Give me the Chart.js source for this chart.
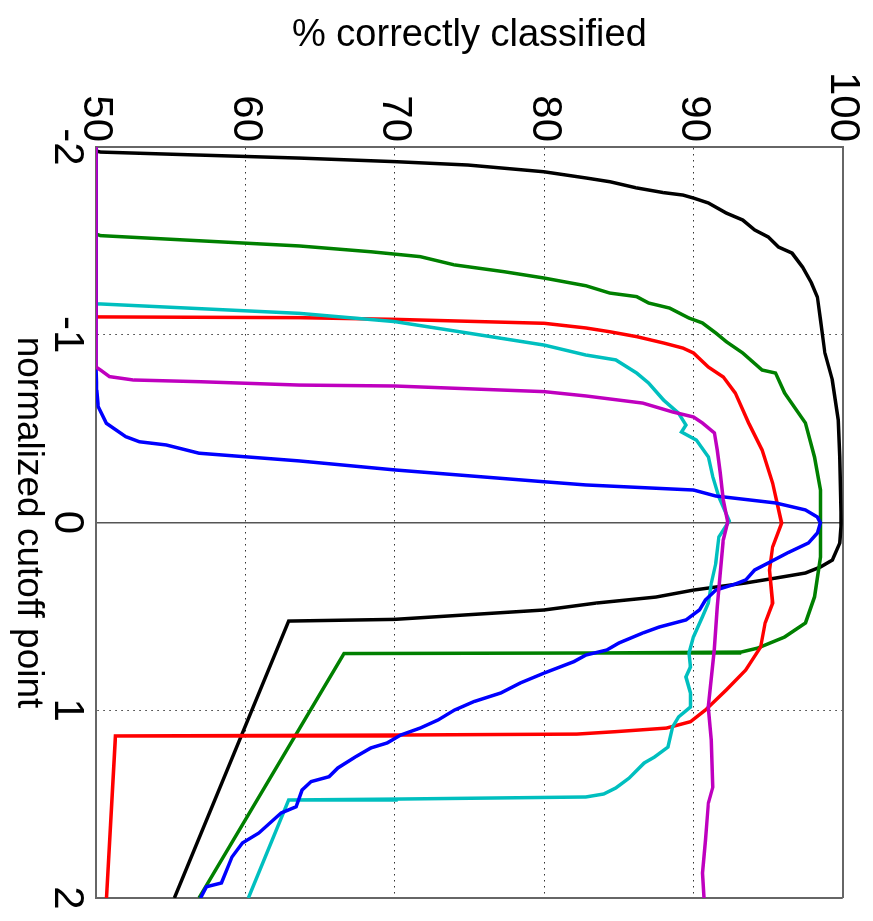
<!DOCTYPE html>
<html>
<head>
<meta charset="utf-8">
<script src="https://cdn.jsdelivr.net/npm/chart.js"></script>
<style>
html, body { margin: 0; padding: 0; background: #fff; overflow: hidden; }
/* chart is drawn upright (cutoff across, % up) and then turned a quarter clockwise */
#wrap { position: absolute; left: 0; top: 0; width: 921px; height: 873px;
        transform-origin: 0 0; transform: translateX(873px) rotate(90deg); }
</style>
</head>
<body>
<div id="wrap"><canvas id="c" width="921" height="873"></canvas></div>
<script>
const xTicks = [-2, -1, 0, 1, 2];
const yTicks = [50, 60, 70, 80, 90, 100];
const xLabel = 'normalized cutoff point';
const yLabel = '% correctly classified';

// [cutoff, % correct]
const black = [[-2,50],[-1.979,50],[-1.973,50.3],[-1.957,56.9],[-1.941,63.6],[-1.922,70],[-1.904,74.9],[-1.868,80],
  [-1.835,82.8],[-1.815,84.4],[-1.782,86.2],[-1.757,88],[-1.744,89.3],[-1.728,90],[-1.702,91],[-1.648,92.2],
  [-1.611,93.3],[-1.558,94.1],[-1.521,95],[-1.467,95.7],[-1.435,96.6],[-1.361,97.3],[-1.276,97.9],[-1.201,98.3],
  [-1.079,98.5],[-0.903,98.8],[-0.759,99.3],[-0.546,99.7],[-0.349,99.8],[0.003,99.9],[0.109,99.8],[0.2,99.3],
  [0.237,98.5],[0.269,97.5],[0.296,95.5],[0.322,93.5],[0.36,90],[0.397,87.5],[0.429,83.5],[0.466,80],
  [0.516,70],[0.525,62.9],[2,55.25]];
const green = [[-2,50],[-1.537,50],[-1.528,50.3],[-1.473,63.6],[-1.442,68.4],[-1.416,71.7],[-1.372,74],[-1.336,77.3],
  [-1.302,80],[-1.261,82.8],[-1.222,84.4],[-1.203,86.2],[-1.169,87],[-1.142,88.4],[-1.089,89.7],[-1.063,90.6],
  [-1.009,91.5],[-0.963,92.2],[-0.903,93.3],[-0.812,94.6],[-0.796,95.5],[-0.69,96.1],[-0.53,97.5],[-0.349,98.1],
  [-0.173,98.5],[0.003,98.5],[0.184,98.5],[0.397,98.1],[0.535,97.5],[0.61,96.1],[0.669,94.3],[0.69,93.2],
  [0.695,83.5],[0.698,66.6],[2,56.9]];
const red = [[-2,50],[-1.095,50],[-1.091,63.6],[-1.082,70],[-1.061,80],[-1.036,82.8],[-1.016,84.4],[-0.99,86.2],
  [-0.956,88],[-0.929,89.3],[-0.903,90],[-0.828,91],[-0.775,92],[-0.69,92.8],[-0.53,93.7],[-0.386,94.6],
  [-0.21,95.3],[0.003,95.9],[0.13,95.3],[0.253,95.1],[0.429,95.3],[0.535,94.8],[0.663,94.5],[0.786,93.5],
  [0.892,92.2],[0.999,90.8],[1.061,89.8],[1.095,88.2],[1.114,84.8],[1.127,82.2],[1.132,70.2],[1.137,51.3],
  [2,50.7]];
const cyan = [[-2,50],[-1.169,50],[-1.164,50.3],[-1.114,63.6],[-1.07,70],[-1.009,74.9],[-0.945,80],[-0.892,82.8],
  [-0.866,84.8],[-0.796,86.2],[-0.743,87],[-0.652,88],[-0.583,89],[-0.519,89.5],[-0.482,89.2],[-0.439,90.2],
  [-0.349,91],[-0.242,91.3],[-0.136,91.7],[-0.008,92.4],[0.077,91.7],[0.216,91.5],[0.322,91.2],[0.429,91],
  [0.503,90.6],[0.61,90],[0.695,89.7],[0.77,89.8],[0.823,89.5],[0.908,89.8],[0.983,89.8],[1.036,89],
  [1.089,88.6],[1.196,88.3],[1.249,87.4],[1.281,86.7],[1.361,85.7],[1.414,84.8],[1.446,84],[1.462,82.8],
  [1.473,70.2],[1.478,62.9],[2,60.2]];
const magenta = [[-2,50],[-0.828,50],[-0.812,50.3],[-0.777,50.9],[-0.759,52.5],[-0.75,56.9],[-0.732,63.6],[-0.727,70],
  [-0.697,80],[-0.674,82.8],[-0.636,86.6],[-0.589,88.6],[-0.562,90],[-0.53,90.6],[-0.477,91.4],[-0.386,91.6],
  [-0.264,91.8],[-0.12,92],[-0.003,92.3],[0.093,92],[0.269,91.8],[0.45,91.6],[0.679,91.4],[0.983,91],
  [1.158,91.2],[1.409,91.3],[1.494,91],[1.691,90.8],[1.867,90.6],[2,90.7]];
const blue = [[-2,50],[-0.828,50],[-0.706,50.05],[-0.617,50.15],[-0.528,50.7],[-0.457,52],[-0.43,52.9],[-0.413,54.7],
  [-0.369,56.9],[-0.35,60],[-0.328,63.6],[-0.28,70],[-0.217,80],[-0.2,82.8],[-0.173,90],[-0.141,91.5],
  [-0.104,95.5],[-0.067,97.5],[-0.029,98.3],[0.001,98.5],[0.056,98.3],[0.109,97.7],[0.162,96.3],[0.216,95],
  [0.253,94.1],[0.306,93.5],[0.328,92.8],[0.36,91.5],[0.413,90.8],[0.466,90.4],[0.519,89.5],[0.557,87.7],
  [0.589,86.6],[0.642,85],[0.679,84.2],[0.706,82.8],[0.741,82],[0.802,80],[0.855,78.4],[0.908,77.1],
  [0.954,75.3],[0.999,74],[1.052,72.9],[1.095,71.7],[1.132,70.4],[1.174,69.5],[1.201,68.4],[1.247,67.4],
  [1.307,66.2],[1.354,65.6],[1.38,64.4],[1.425,63.8],[1.514,63.4],[1.547,62.4],[1.654,60.9],[1.707,59.8],
  [1.782,59.1],[1.92,58.4],[1.94,57.4],[2,57]];

// first in list ends up on top
const series = [
  { pts: magenta, color: '#bf00bf' },
  { pts: blue, color: '#0000ff' },
  { pts: cyan, color: '#00bfbf' },
  { pts: red, color: '#ff0000' },
  { pts: green, color: '#008000' },
  { pts: black, color: '#000000' }
];

const font = 'Liberation Sans, Arial, Helvetica, sans-serif';
const boxColor = '#666';

function gridColor(c, lo, hi) {
  const v = c.tick ? c.tick.value : null;
  if (v === lo || v === hi) return boxColor;
  if (v === 0) return '#555';
  return '#333';
}
function gridWidth(c, lo, hi) {
  const v = c.tick ? c.tick.value : null;
  if (v === lo || v === hi) return 2;
  if (v === 0) return 1.5;
  return 1;
}
function gridDash(c, lo, hi) {
  if (!c.tick) return [];
  const v = c.tick.value;
  if (v === lo || v === hi || v === 0) return [];
  return [1.5, 4.5];
}

new Chart(document.getElementById('c').getContext('2d'), {
  type: 'line',
  data: {
    datasets: series.map(s => ({
      data: s.pts.map(p => ({ x: p[0], y: p[1] })),
      borderColor: s.color,
      backgroundColor: s.color,
      borderWidth: 3.5,
      pointRadius: 0,
      tension: 0,
      fill: false
    }))
  },
  options: {
    responsive: false,
    animation: false,
    devicePixelRatio: 1,
    layout: { padding: { top: 25, right: 23, left: 0, bottom: 0 } },
    plugins: { legend: { display: false }, tooltip: { enabled: false } },
    scales: {
      x: {
        type: 'linear',
        min: -2,
        max: 2,
        afterBuildTicks: s => { s.ticks = xTicks.map(v => ({ value: v })); },
        afterFit: s => { s.height = 96; },
        ticks: { font: { family: font, size: 42 }, color: '#000', padding: 4, maxRotation: 0 },
        grid: {
          drawTicks: false,
          color: c => gridColor(c, -2, 2),
          lineWidth: c => gridWidth(c, -2, 2)
        },
        border: { display: true, color: boxColor, width: 2, dash: c => gridDash(c, -2, 2) },
        title: { display: true, text: xLabel, color: '#000',
          font: { family: font, size: 37, lineHeight: 1 }, padding: { top: 0, bottom: 10 } }
      },
      y: {
        type: 'linear',
        min: 50,
        max: 100,
        afterBuildTicks: s => { s.ticks = yTicks.map(v => ({ value: v })); },
        afterFit: s => { s.width = 147; },
        ticks: { font: { family: font, size: 42 }, color: '#000', padding: 5 },
        grid: {
          drawTicks: false,
          color: c => gridColor(c, 50, 100),
          lineWidth: c => gridWidth(c, 50, 100)
        },
        border: { display: true, color: boxColor, width: 2, dash: c => gridDash(c, 50, 100) },
        title: { display: true, text: yLabel, color: '#000',
          font: { family: font, size: 38, lineHeight: 1 }, padding: { top: 17, bottom: 0 } }
      }
    }
  }
});
</script>
</body>
</html>
